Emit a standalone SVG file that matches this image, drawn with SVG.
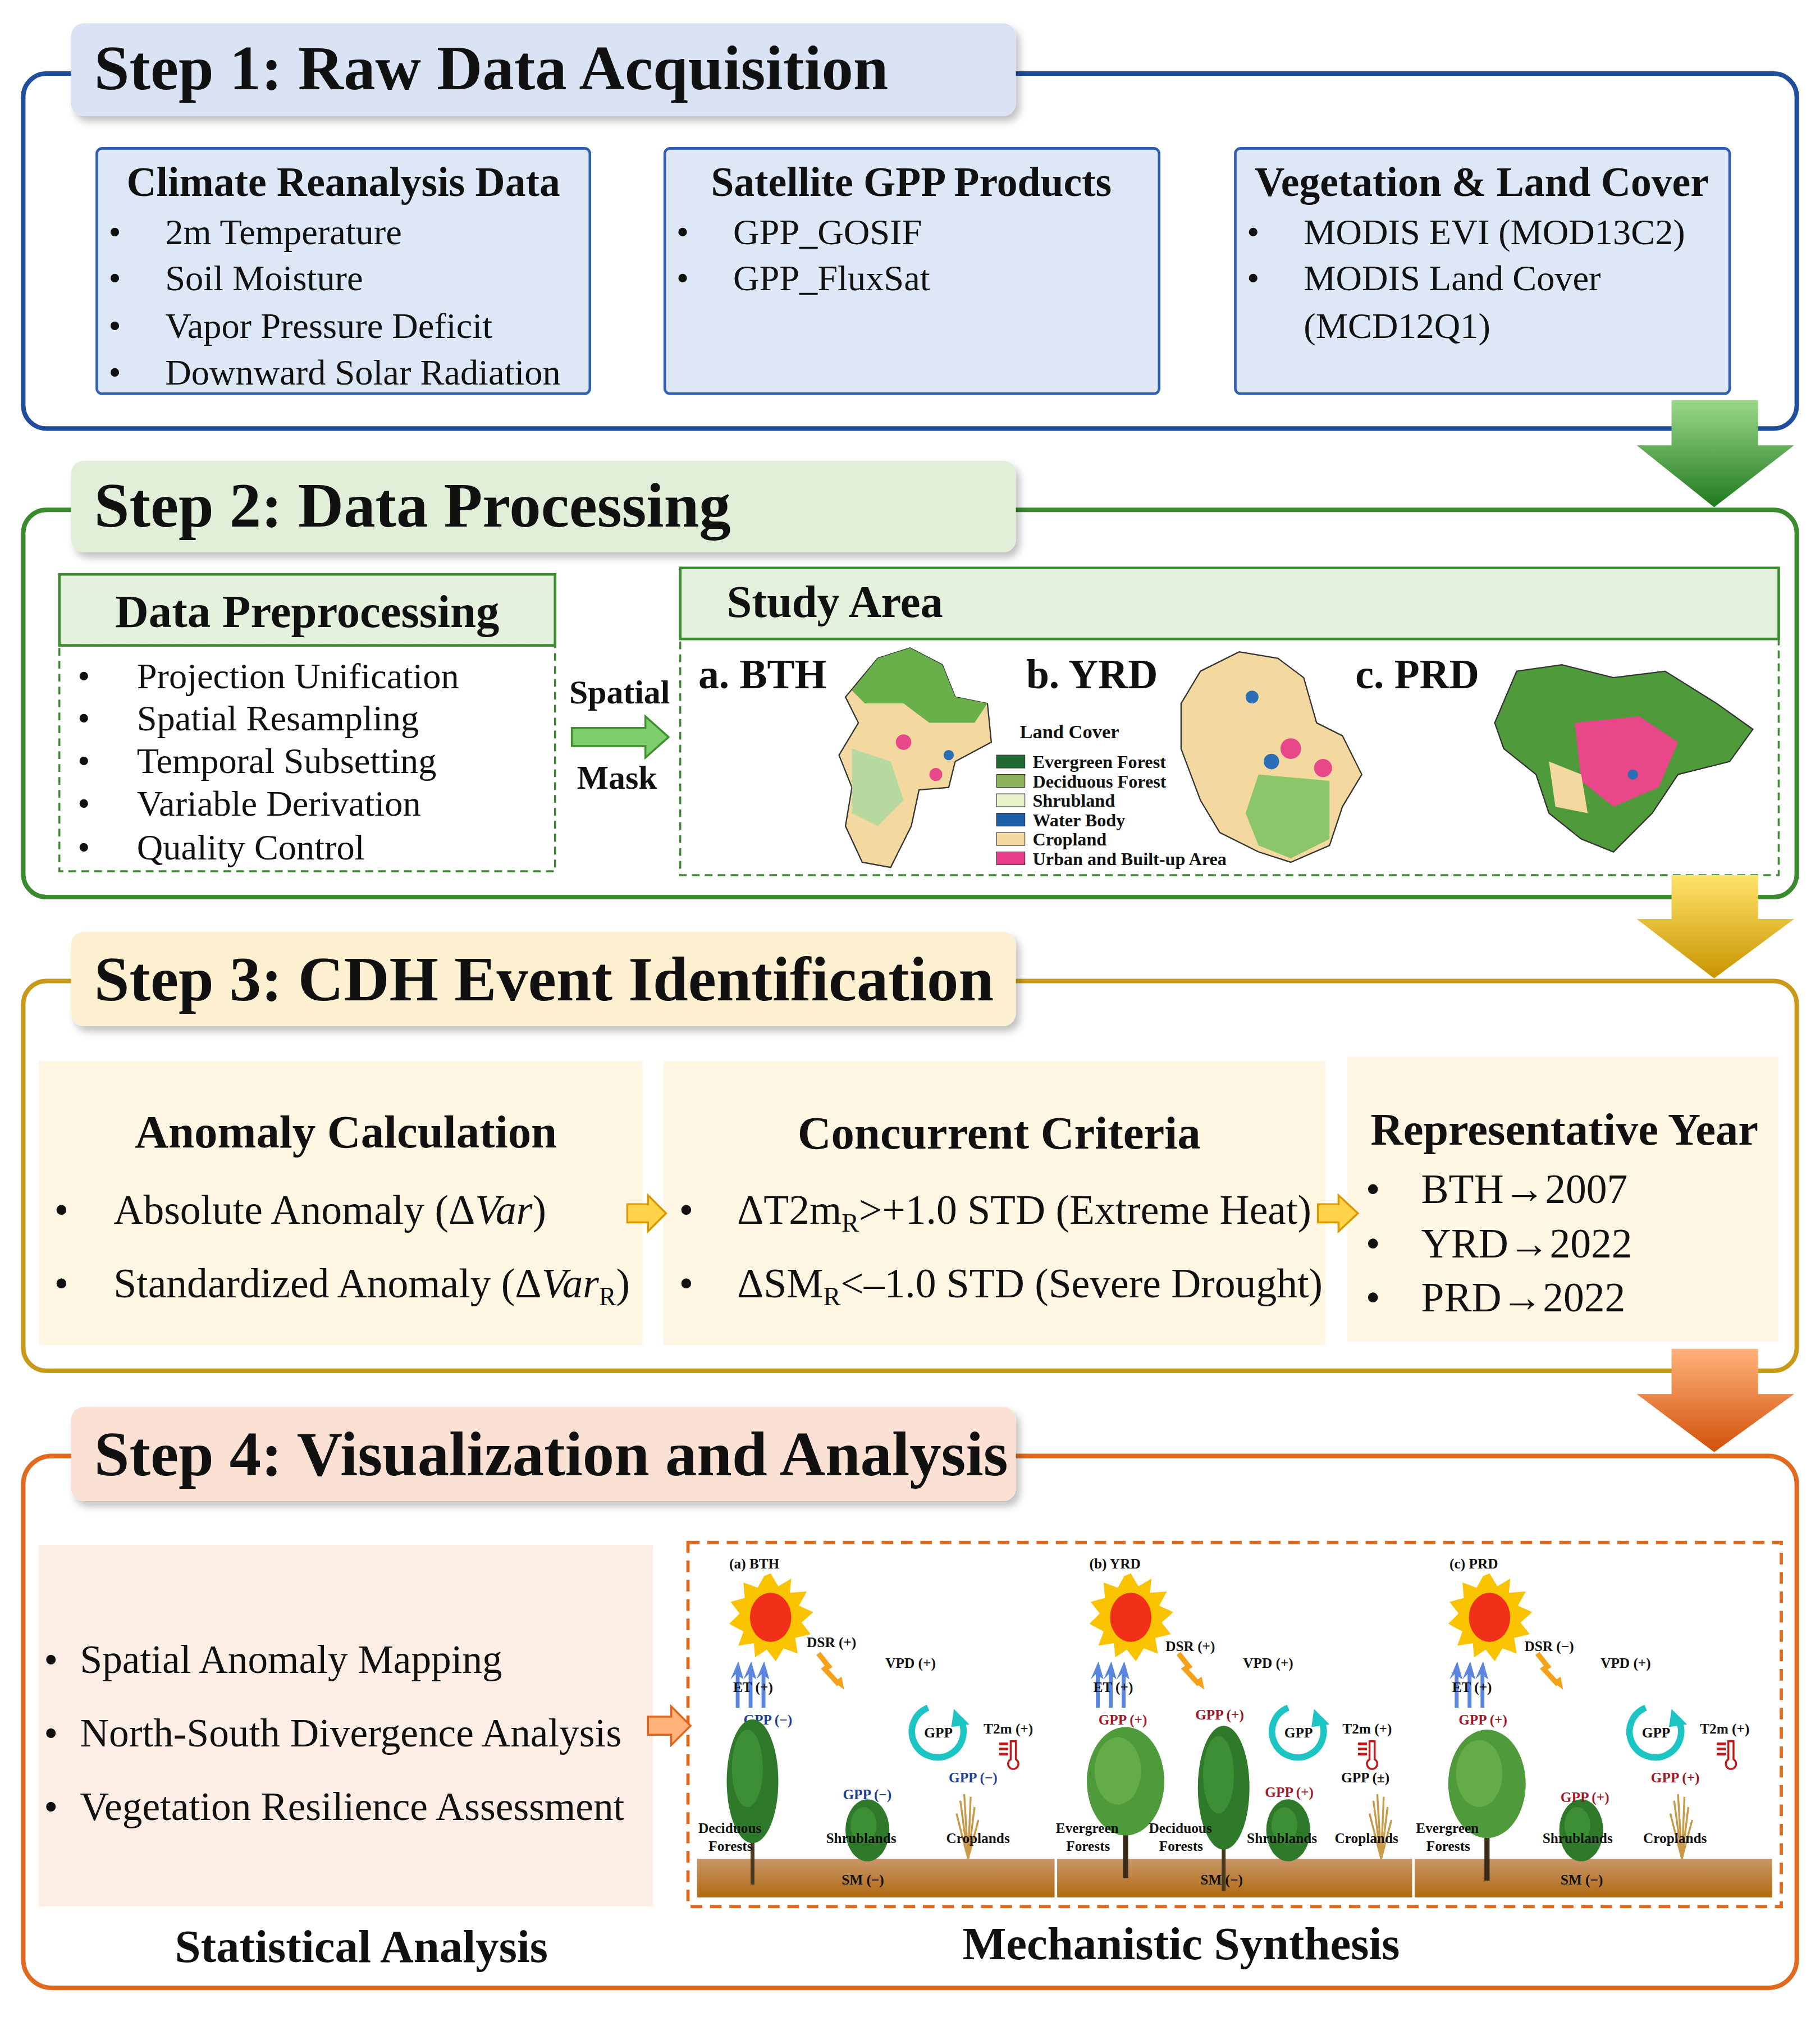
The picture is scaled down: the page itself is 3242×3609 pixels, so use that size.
<svg xmlns="http://www.w3.org/2000/svg" width="3242" height="3609" viewBox="0 0 3242 3609">
<defs>
<style>
text{font-family:"Liberation Serif","DejaVu Serif",serif;fill:#111}
.t{font-size:49px;font-weight:bold}
.h{font-size:32px;font-weight:bold}
.h2{font-size:36px;font-weight:bold}
.i{font-size:28px}
.b{font-size:32px}
.s{font-size:11px;font-weight:bold}
.lg{font-size:14px;font-weight:bold}
.bl{fill:#1f3f8f}.rd{fill:#9b1b2a}
</style>
<linearGradient id="gG" x1="0" y1="0" x2="0" y2="1"><stop offset="0" stop-color="#9bd88a"/><stop offset="1" stop-color="#1f7a1f"/></linearGradient>
<linearGradient id="gY" x1="0" y1="0" x2="0" y2="1"><stop offset="0" stop-color="#ffe36a"/><stop offset="1" stop-color="#c89400"/></linearGradient>
<linearGradient id="gO" x1="0" y1="0" x2="0" y2="1"><stop offset="0" stop-color="#ffb27a"/><stop offset="1" stop-color="#d2500a"/></linearGradient>
<linearGradient id="soil" x1="0" y1="0" x2="0" y2="1"><stop offset="0" stop-color="#c9966a"/><stop offset="1" stop-color="#b06a10"/></linearGradient>
<filter id="sh" x="-5%" y="-20%" width="110%" height="150%"><feDropShadow dx="3" dy="4" stdDeviation="3" flood-opacity="0.25"/></filter>
<g id="sun"><polygon points="0,-34 6,-24 16,-30 15,-19 28,-20 22,-9 33,-4 24,4 31,13 19,16 21,28 10,24 4,34 -3,25 -12,31 -13,20 -25,22 -21,11 -32,5 -24,-3 -31,-12 -20,-15 -21,-27 -10,-23 -5,-32" fill="#f9c300"/><ellipse cx="0" cy="0" rx="16" ry="19" fill="#f03018"/></g>
<g id="bolt"><polyline points="0,0 8,10 5,12 16,24" fill="none" stroke="#f5a21a" stroke-width="4"/><polygon points="12,22 20,28 18,18" fill="#f5a21a"/></g>
<g id="et"><path d="M0,30 L0,4 L-4,8 L2,-6 L6,8 L3,6 L3,30Z" fill="#5a86e0"/></g>
<g id="cyc"><path d="M-8,-19 A20,20 0 1,0 17,-10" fill="none" stroke="#1cc4c4" stroke-width="5"/><polygon points="12,-18 24,-6 10,-4" fill="#1cc4c4"/><text x="0" y="4" font-size="11" font-weight="bold" text-anchor="middle">GPP</text></g>
<g id="thermo"><rect x="-6" y="-8" width="7" height="2" fill="#c01818"/><rect x="-6" y="-4" width="7" height="2" fill="#c01818"/><rect x="-6" y="0" width="7" height="2" fill="#c01818"/><path d="M3,-9 h4 v14 a4,4 0 1,1 -4,0z" fill="none" stroke="#c01818" stroke-width="1.5"/></g>
<g id="crop"><path d="M0,0 L-6,-45 M0,0 L-3,-50 M0,0 L2,-48 M0,0 L5,-40 M0,0 L-9,-35 M0,0 L8,-30" stroke="#c99a4a" stroke-width="1.5"/></g>
<g id="decid"><rect x="-1.5" y="-10" width="3" height="90" fill="#4a3a22"/><ellipse cx="0" cy="0" rx="20" ry="48" fill="#2f7a2a"/><ellipse cx="-4" cy="-10" rx="12" ry="30" fill="#3c8f35"/></g>
<g id="ever"><rect x="-2" y="0" width="4" height="75" fill="#3a2a18"/><ellipse cx="0" cy="0" rx="30" ry="42" fill="#4f9a3a"/><ellipse cx="-6" cy="-8" rx="18" ry="26" fill="#63ac48"/></g>
<g id="shrub"><ellipse cx="0" cy="0" rx="17" ry="24" fill="#2f7a2a"/><ellipse cx="-3" cy="-4" rx="10" ry="14" fill="#3c8f35"/></g>
</defs>
<rect width="3242" height="3609" fill="#fff"/>
<g transform="scale(2.2993)">
<!-- Step 1 -->
<g id="step1">
<rect x="18" y="57" width="1374" height="275" rx="18" fill="none" stroke="#1f4e9c" stroke-width="3.5"/>
<rect x="55" y="18" width="732" height="72" rx="10" fill="#d9e3f4" filter="url(#sh)"/>
<text x="73" y="69" class="t">Step 1: Raw Data Acquisition</text>
</g>
<g id="climate"><rect x="75" y="115" width="382" height="190" rx="4" fill="#dde7f6" stroke="#2e5fb0" stroke-width="2"/>
<text x="266" y="152" class="h" text-anchor="middle">Climate Reanalysis Data</text>
<text class="i"><tspan x="84" y="189">•</tspan><tspan x="128" y="189">2m Temperature</tspan><tspan x="84" y="225">•</tspan><tspan x="128" y="225">Soil Moisture</tspan><tspan x="84" y="262">•</tspan><tspan x="128" y="262">Vapor Pressure Deficit</tspan><tspan x="84" y="298">•</tspan><tspan x="128" y="298">Downward Solar Radiation</tspan></text></g>
<g id="satellite"><rect x="515" y="115" width="383" height="190" rx="4" fill="#dde7f6" stroke="#2e5fb0" stroke-width="2"/>
<text x="706" y="152" class="h" text-anchor="middle">Satellite GPP Products</text>
<text class="i"><tspan x="524" y="189">•</tspan><tspan x="568" y="189">GPP_GOSIF</tspan><tspan x="524" y="225">•</tspan><tspan x="568" y="225">GPP_FluxSat</tspan></text></g>
<g id="veg"><rect x="957" y="115" width="383" height="190" rx="4" fill="#dde7f6" stroke="#2e5fb0" stroke-width="2"/>
<text x="1148" y="152" class="h" text-anchor="middle">Vegetation &amp; Land Cover</text>
<text class="i"><tspan x="966" y="189">•</tspan><tspan x="1010" y="189">MODIS EVI (MOD13C2)</tspan><tspan x="966" y="225">•</tspan><tspan x="1010" y="225">MODIS Land Cover</tspan><tspan x="1010" y="262">(MCD12Q1)</tspan></text></g>
<!-- Step 2 -->
<g id="step2">
<rect x="18" y="395" width="1374" height="300" rx="18" fill="none" stroke="#3a8a2e" stroke-width="3.5"/>
<rect x="55" y="357" width="732" height="71" rx="10" fill="#e1efd9" filter="url(#sh)"/>
<text x="73" y="408" class="t">Step 2: Data Processing</text>
</g>
<g id="preproc">
<rect x="46" y="500" width="384" height="175" fill="#fff" stroke="#3a8a2e" stroke-width="1.5" stroke-dasharray="6,4"/>
<rect x="46" y="445" width="384" height="55" fill="#e4f1dc" stroke="#3a8a2e" stroke-width="2"/>
<text x="238" y="486" class="h2" text-anchor="middle">Data Preprocessing</text>
<text class="i"><tspan x="60" y="533">•</tspan><tspan x="106" y="533">Projection Unification</tspan><tspan x="60" y="566">•</tspan><tspan x="106" y="566">Spatial Resampling</tspan><tspan x="60" y="599">•</tspan><tspan x="106" y="599">Temporal Subsetting</tspan><tspan x="60" y="632">•</tspan><tspan x="106" y="632">Variable Derivation</tspan><tspan x="60" y="666">•</tspan><tspan x="106" y="666">Quality Control</tspan></text>
</g>
<g id="spatialmask"><text x="480" y="545" text-anchor="middle" style="font-size:26px;font-weight:bold">Spatial</text><text x="478" y="611" text-anchor="middle" style="font-size:26px;font-weight:bold">Mask</text></g>
<g id="study">
<rect x="527" y="495" width="851" height="183" fill="#fff" stroke="#3a8a2e" stroke-width="1.5" stroke-dasharray="6,4"/>
<rect x="527" y="440" width="851" height="55" fill="#e4f1dc" stroke="#3a8a2e" stroke-width="2"/>
<text x="563" y="478" style="font-size:35px;font-weight:bold">Study Area</text>
<text x="541" y="533" class="h">a. BTH</text><text x="795" y="533" class="h">b. YRD</text><text x="1050" y="533" class="h">c. PRD</text>
<path d="M680,510 L705,502 L730,515 L740,540 L765,545 L768,575 L740,590 L735,610 L712,612 L706,640 L690,672 L668,668 L655,640 L660,610 L650,585 L665,560 L655,540 Z" fill="#f3d9a0" stroke="#333" stroke-width="1"/>
<path d="M680,510 L705,502 L730,515 L740,540 L765,545 L755,560 L720,560 L700,545 L670,545 L660,535 Z" fill="#6ab04a"/>
<path d="M660,580 L690,590 L700,620 L680,640 L660,630 Z" fill="#b7d9a0"/>
<circle cx="700" cy="575" r="6" fill="#e8478a"/><circle cx="725" cy="600" r="5" fill="#e8478a"/><circle cx="735" cy="585" r="4" fill="#2a6fb5"/>
<path d="M930,520 L960,505 L990,510 L1010,525 L1020,560 L1040,570 L1055,600 L1040,625 L1030,655 L1000,668 L975,660 L945,645 L930,620 L915,580 L915,545 Z" fill="#f3d9a0" stroke="#333" stroke-width="1"/>
<path d="M975,600 L1030,605 L1030,650 L1000,665 L975,655 L965,630Z" fill="#8cc66a"/>
<circle cx="1000" cy="580" r="8" fill="#e8478a"/><circle cx="1025" cy="595" r="7" fill="#e8478a"/><circle cx="970" cy="540" r="5" fill="#2a6fb5"/><circle cx="985" cy="590" r="6" fill="#2a6fb5"/>
<path d="M1175,520 L1210,515 L1250,525 L1290,520 L1330,545 L1358,565 L1340,590 L1300,600 L1280,630 L1250,660 L1225,650 L1200,630 L1190,600 L1165,580 L1158,560 Z" fill="#4f9a3a" stroke="#333" stroke-width="1"/>
<path d="M1220,560 L1270,555 L1300,575 L1285,610 L1250,625 L1225,605 Z" fill="#e8478a"/>
<path d="M1200,590 L1225,600 L1230,630 L1205,625Z" fill="#f3d9a0"/>
<circle cx="1265" cy="600" r="4" fill="#2a6fb5"/>
<text x="790" y="572" style="font-size:15px;font-weight:bold">Land Cover</text>
<g><rect x="772" y="585" width="22" height="10" fill="#1e6a32" stroke="#333" stroke-width=".5"/><text x="800" y="595" class="lg">Evergreen Forest</text>
<rect x="772" y="600" width="22" height="10" fill="#8db35a" stroke="#333" stroke-width=".5"/><text x="800" y="610" class="lg">Deciduous Forest</text>
<rect x="772" y="615" width="22" height="10" fill="#e8f2c8" stroke="#333" stroke-width=".5"/><text x="800" y="625" class="lg">Shrubland</text>
<rect x="772" y="630" width="22" height="10" fill="#1f5fa8" stroke="#333" stroke-width=".5"/><text x="800" y="640" class="lg">Water Body</text>
<rect x="772" y="645" width="22" height="10" fill="#f3d9a0" stroke="#333" stroke-width=".5"/><text x="800" y="655" class="lg">Cropland</text>
<rect x="772" y="660" width="22" height="10" fill="#ea3b8a" stroke="#333" stroke-width=".5"/><text x="800" y="670" class="lg">Urban and Built-up Area</text></g>
</g>
<!-- Step 3 -->
<g id="step3">
<rect x="18" y="760" width="1374" height="302" rx="18" fill="none" stroke="#c99a1a" stroke-width="3.5"/>
<rect x="55" y="722" width="732" height="73" rx="10" fill="#fdf0d0" filter="url(#sh)"/>
<text x="73" y="775" class="t">Step 3: CDH Event Identification</text>
</g>
<g id="anomaly"><rect x="30" y="822" width="468" height="220" fill="#fef5e2"/>
<text x="268" y="889" class="h2" text-anchor="middle">Anomaly Calculation</text>
<text class="b"><tspan x="42" y="948">•</tspan><tspan x="88" y="948">Absolute Anomaly (Δ<tspan font-style="italic">Var</tspan>)</tspan><tspan x="42" y="1005">•</tspan><tspan x="88" y="1005">Standardized Anomaly (Δ<tspan font-style="italic">Var</tspan><tspan font-size="20" dy="6">R</tspan><tspan dy="-6">)</tspan></tspan></text></g>
<g id="criteria"><rect x="514" y="822" width="513" height="220" fill="#fef5e2"/>
<text x="774" y="890" class="h2" text-anchor="middle">Concurrent Criteria</text>
<text class="b"><tspan x="526" y="948">•</tspan><tspan x="571" y="948">ΔT2m<tspan font-size="20" dy="6">R</tspan><tspan dy="-6">&gt;+1.0 STD (Extreme Heat)</tspan></tspan><tspan x="526" y="1005">•</tspan><tspan x="571" y="1005">ΔSM<tspan font-size="20" dy="6">R</tspan><tspan dy="-6">&lt;–1.0 STD (Severe Drought)</tspan></tspan></text></g>
<g id="repyear"><rect x="1044" y="819" width="334" height="220" fill="#fef5e2"/>
<text x="1212" y="887" text-anchor="middle" style="font-size:35px;font-weight:bold">Representative Year</text>
<text class="b"><tspan x="1058" y="932">•</tspan><tspan x="1101" y="932">BTH→2007</tspan><tspan x="1058" y="974">•</tspan><tspan x="1101" y="974">YRD→2022</tspan><tspan x="1058" y="1016">•</tspan><tspan x="1101" y="1016">PRD→2022</tspan></text></g>
<!-- Step 4 -->
<g id="step4">
<rect x="18" y="1128" width="1374" height="412" rx="22" fill="none" stroke="#e06a1e" stroke-width="3.5"/>
<rect x="55" y="1090" width="732" height="73" rx="10" fill="#fbe1d3" filter="url(#sh)"/>
<text x="73" y="1143" class="t">Step 4: Visualization and Analysis</text>
</g>
<g id="statistical"><rect x="30" y="1197" width="476" height="280" fill="#fdeee5"/>
<text style="font-size:31px"><tspan x="34" y="1296">•</tspan><tspan x="62" y="1296">Spatial Anomaly Mapping</tspan><tspan x="34" y="1353">•</tspan><tspan x="62" y="1353">North-South Divergence Analysis</tspan><tspan x="34" y="1410">•</tspan><tspan x="62" y="1410">Vegetation Resilience Assessment</tspan></text>
<text x="280" y="1520" class="h2" text-anchor="middle">Statistical Analysis</text></g>
<g id="mechanistic">
<rect x="533" y="1195" width="847" height="282" fill="#fff" stroke="#e06a1e" stroke-width="2.5" stroke-dasharray="9,6"/>
<text x="915" y="1518" class="h2" text-anchor="middle">Mechanistic Synthesis</text>
<rect x="540" y="1440" width="277" height="30" fill="url(#soil)"/><rect x="819" y="1440" width="275" height="30" fill="url(#soil)"/><rect x="1096" y="1440" width="277" height="30" fill="url(#soil)"/>
<g id="panelA">
<text x="565" y="1215" class="s">(a) BTH</text>
<use href="#sun" x="597" y="1253"/><use href="#bolt" x="634" y="1281"/>
<text x="625" y="1276" class="s">DSR (+)</text><text x="686" y="1292" class="s">VPD (+)</text>
<use href="#et" x="570" y="1293"/><use href="#et" x="580" y="1293"/><use href="#et" x="590" y="1293"/>
<text x="568" y="1311" class="s">ET (+)</text>
<text x="576" y="1336" class="s bl">GPP (−)</text>
<use href="#cyc" x="727" y="1342"/><text x="762" y="1343" class="s">T2m (+)</text><use href="#thermo" x="780" y="1358"/>
<use href="#decid" x="583" y="1380"/>
<use href="#shrub" x="672" y="1418"/><text x="653" y="1394" class="s bl">GPP (−)</text>
<use href="#crop" x="750" y="1440"/><text x="735" y="1381" class="s bl">GPP (−)</text>
<text x="541" y="1420" class="s">Deciduous</text><text x="549" y="1434" class="s">Forests</text>
<text x="640" y="1428" class="s">Shrublands</text><text x="733" y="1428" class="s">Croplands</text>
<text x="652" y="1460" class="s">SM (−)</text>
</g>
<g id="panelB">
<text x="844" y="1215" class="s">(b) YRD</text>
<use href="#sun" x="876" y="1253"/><use href="#bolt" x="913" y="1281"/>
<text x="903" y="1279" class="s">DSR (+)</text><text x="963" y="1292" class="s">VPD (+)</text>
<use href="#et" x="849" y="1293"/><use href="#et" x="859" y="1293"/><use href="#et" x="869" y="1293"/>
<text x="847" y="1311" class="s">ET (+)</text>
<text x="851" y="1336" class="s rd">GPP (+)</text><text x="926" y="1332" class="s rd">GPP (+)</text>
<use href="#cyc" x="1006" y="1342"/><text x="1040" y="1343" class="s">T2m (+)</text><use href="#thermo" x="1058" y="1358"/>
<use href="#ever" x="872" y="1380"/><use href="#decid" x="948" y="1385"/>
<use href="#shrub" x="998" y="1418"/><text x="980" y="1392" class="s rd">GPP (+)</text>
<use href="#crop" x="1070" y="1440"/><text x="1039" y="1381" class="s">GPP (±)</text>
<text x="818" y="1420" class="s">Evergreen</text><text x="826" y="1434" class="s">Forests</text>
<text x="890" y="1420" class="s">Deciduous</text><text x="898" y="1434" class="s">Forests</text>
<text x="966" y="1428" class="s">Shrublands</text><text x="1034" y="1428" class="s">Croplands</text>
<text x="930" y="1460" class="s">SM (−)</text>
</g>
<g id="panelC">
<text x="1123" y="1215" class="s">(c) PRD</text>
<use href="#sun" x="1154" y="1253"/><use href="#bolt" x="1191" y="1281"/>
<text x="1181" y="1279" class="s">DSR (−)</text><text x="1240" y="1292" class="s">VPD (+)</text>
<use href="#et" x="1127" y="1293"/><use href="#et" x="1137" y="1293"/><use href="#et" x="1147" y="1293"/>
<text x="1125" y="1311" class="s">ET (+)</text>
<text x="1130" y="1336" class="s rd">GPP (+)</text>
<use href="#cyc" x="1283" y="1342"/><text x="1317" y="1343" class="s">T2m (+)</text><use href="#thermo" x="1336" y="1358"/>
<use href="#ever" x="1152" y="1382"/>
<use href="#shrub" x="1225" y="1418"/><text x="1209" y="1396" class="s rd">GPP (+)</text>
<use href="#crop" x="1303" y="1440"/><text x="1279" y="1381" class="s rd">GPP (+)</text>
<text x="1097" y="1420" class="s">Evergreen</text><text x="1105" y="1434" class="s">Forests</text>
<text x="1195" y="1428" class="s">Shrublands</text><text x="1273" y="1428" class="s">Croplands</text>
<text x="1209" y="1460" class="s">SM (−)</text>
</g>
</g>
<!-- connectors -->
<g id="connectors">
<polygon points="1295,310 1362,310 1362,345 1390,345 1328,393 1268,345 1295,345" fill="url(#gG)"/>
<polygon points="1295,678 1362,678 1362,712 1390,712 1328,758 1268,712 1295,712" fill="url(#gY)"/>
<polygon points="1295,1045 1362,1045 1362,1080 1390,1080 1328,1125 1268,1080 1295,1080" fill="url(#gO)"/>
<polygon points="443,564 500,564 500,555 518,571 500,587 500,578 443,578" fill="#7ccf6a" stroke="#3f8f30" stroke-width="1.5"/>
<polygon points="486,933 502,933 502,926 516,940 502,954 502,947 486,947" fill="#ffd24a" stroke="#d69a00" stroke-width="1.5"/>
<polygon points="1021,933 1037,933 1037,926 1052,940 1037,954 1037,947 1021,947" fill="#ffd24a" stroke="#d69a00" stroke-width="1.5"/>
<polygon points="502,1330 520,1330 520,1322 535,1337 520,1352 520,1344 502,1344" fill="#ffb27a" stroke="#e0651a" stroke-width="1.5"/>
</g>
</g>
</svg>
